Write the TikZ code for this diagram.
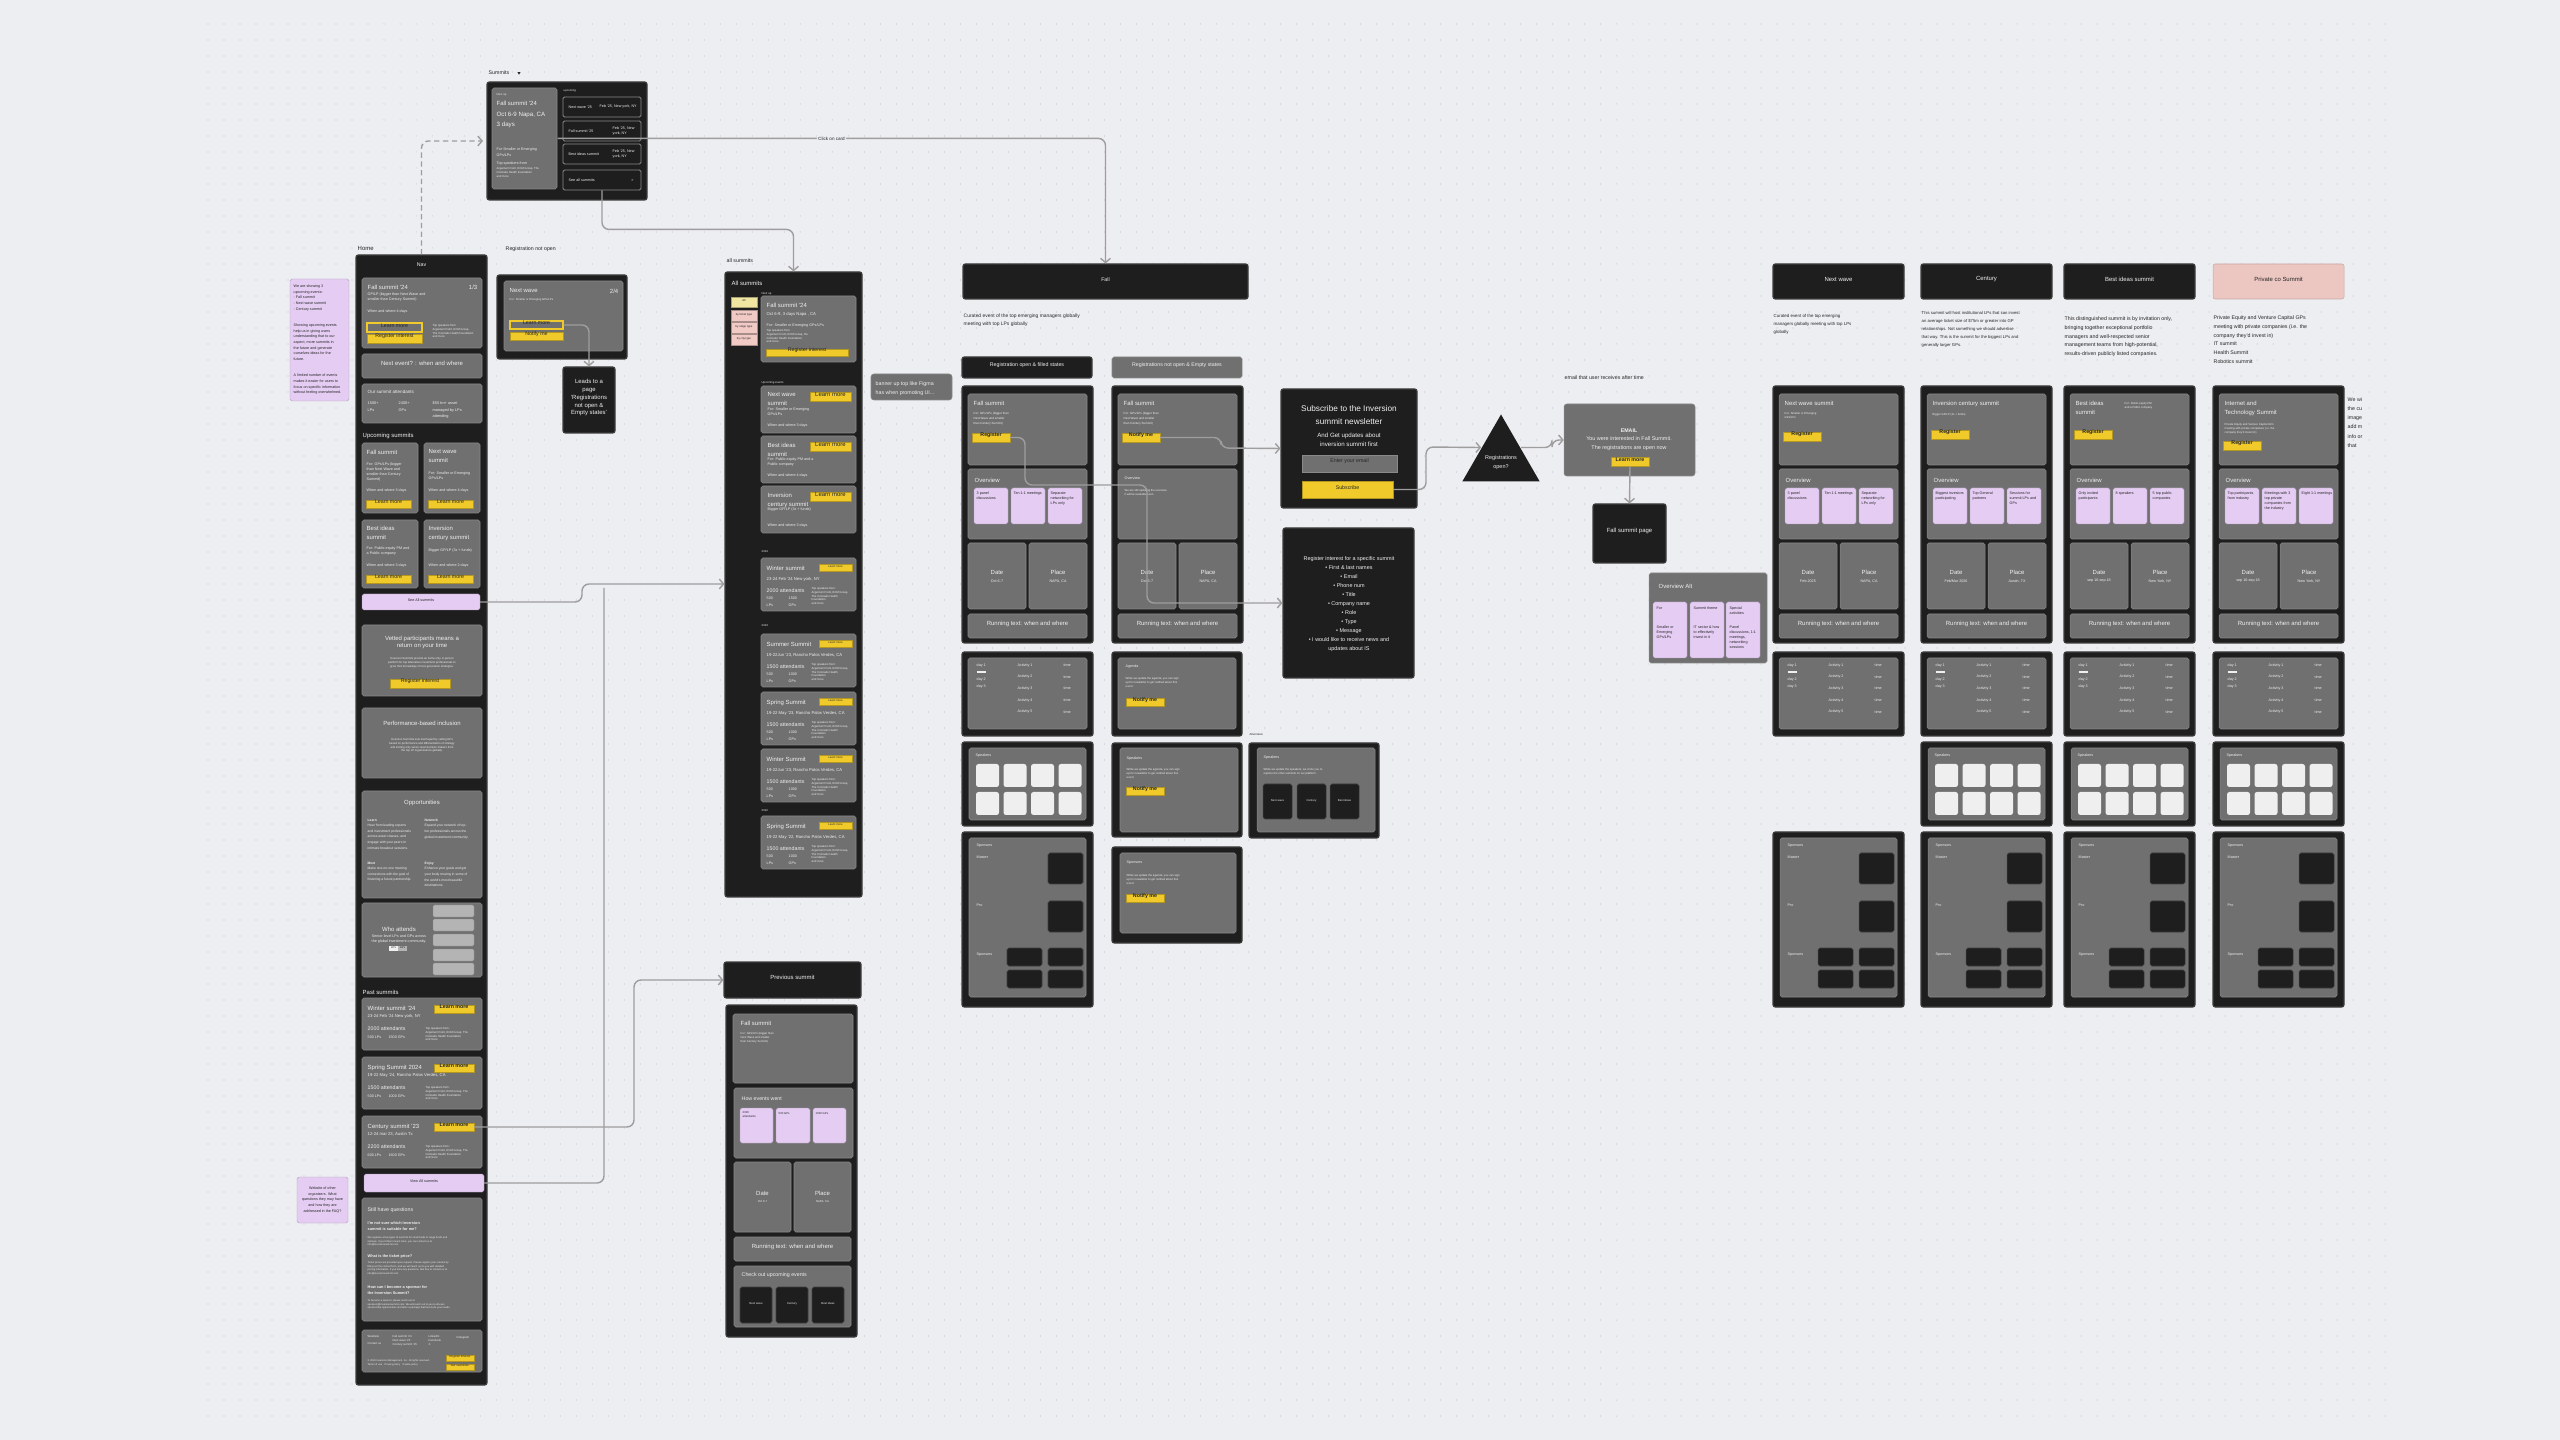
\documentclass[tikz,border=0pt]{standalone}
\usepackage{fontspec}
\setmainfont{Liberation Sans}
\usetikzlibrary{arrows.meta, positioning, fit, calc, shapes.geometric}

% colours
\definecolor{bgc}{HTML}{EDEEF2}
\definecolor{dotc}{HTML}{C3C5CC}
\definecolor{dk}{HTML}{1E1E1E}
\definecolor{dkline}{HTML}{3E3E3E}
\definecolor{cg}{HTML}{707070}
\definecolor{cgline}{HTML}{898989}
\definecolor{yel}{HTML}{F0CA2A}
\definecolor{lilc}{HTML}{E4CCF2}
\definecolor{pnk}{HTML}{ECC6C0}
\definecolor{chipy}{HTML}{F0E6A2}
\definecolor{chipp}{HTML}{F1C9C5}
\definecolor{tilec}{HTML}{EFEFEF}
\definecolor{connc}{HTML}{9E9E9E}
\definecolor{txw}{HTML}{EFEFEF}
\definecolor{txd}{HTML}{262626}
\definecolor{rowline}{HTML}{8C8C8C}
\definecolor{slot}{HTML}{B4B4B4}

% font sizes (the picture is laid out in pixel units)
\newcommand\fxs{\fontsize{0.8pt}{1.05pt}\selectfont}
\newcommand\fxa{\fontsize{1.05pt}{1.45pt}\selectfont}
\newcommand\fxb{\fontsize{1.5pt}{1.95pt}\selectfont}
\newcommand\fxc{\fontsize{1.7pt}{2.2pt}\selectfont}
\newcommand\fxe{\fontsize{2.35pt}{3.8pt}\selectfont}

\tikzset{
  wframe/.style={fill=dk, draw=dkline, line width=0.3pt, rounded corners=0.6pt, inner sep=0pt},
  card/.style={fill=cg, draw=cgline, line width=0.15pt, rounded corners=0.5pt, inner sep=0pt, text=txw},
  ybtn/.style={fill=yel, draw=yel!75!black, line width=0.12pt, inner sep=0pt, text=txd, font=\fxa},
  yout/.style={fill=cg, draw=yel, line width=0.35pt, inner sep=0pt, text=txd, font=\fxa},
  lil/.style={fill=lilc, draw=lilc!80!black, line width=0.12pt, rounded corners=0.5pt, inner sep=0pt, text=txd},
  chip/.style={fill=#1, draw=#1!70!black, line width=0.1pt, inner sep=0pt, text=txd, font=\fxs},
  tile/.style={fill=tilec, rounded corners=0.7pt, inner sep=0pt},
  dbox/.style={fill=dk, draw=dkline, line width=0.15pt, rounded corners=0.5pt, inner sep=0pt, text=txw},
  rowbox/.style={fill=dk, draw=rowline, line width=0.25pt, rounded corners=0.4pt, inner sep=0pt},
  tx/.style={anchor=north west, inner sep=0pt, align=left, text=txw, font=\fxa},
  txk/.style={tx, text=txd},
  ctr/.style={inner sep=0pt, align=center, text=txw},
  lbl/.style={anchor=west, inner sep=0pt, text=txd, font=\fxb},
  flowline/.style={draw=connc, line width=0.4pt, rounded corners=2pt},
  flow/.style={flowline, -{Straight Barb[length=1.2pt,width=2.8pt]}},
}

% top part of a summit page: x, name, header code, button, button y, overview code, date, place
\newcommand\pagetop[8]{%
  \def\px{#1}%
  \node[wframe, fit={(#1,386)(#1+131,643)}] (#2) {};
  \node[card, fit={(#1+6,394)(#1+125,465)}] (#2-hdr) {};
  #3
  \node[ybtn, font=\fxb, fit={(#1+10,#5)(#1+48,#5+9)}] (#2-btn) {\textbf{#4}};
  \node[card, fit={(#1+6,469)(#1+125,539)}] (#2-ov) {};
  #6
  \node[card, fit={(#1+6,543)(#1+64,609)}] (#2-date) {};
  \node[card, fit={(#1+67,543)(#1+125,609)}] (#2-place) {};
  \node[ctr, font=\fxc] (#2-dl) at ($(#2-date.center)+(0,-4)$) {Date};
  \node[ctr, font=\fxa] (#2-dv) at ($(#2-date.center)+(0,5)$) {#7};
  \node[ctr, font=\fxc] (#2-pl) at ($(#2-place.center)+(0,-4)$) {Place};
  \node[ctr, font=\fxa] (#2-pv) at ($(#2-place.center)+(0,5)$) {#8};
  \node[card, font=\fxc, fit={(#1+6,614)(#1+125,638)}] (#2-run) {Running text: when and where};
}
\newcommand\ovtrio[4]{%
  \node[tx, font=\fxc] (#1-ovt) at (\px+12,477) {Overview};
  \node[lil, fit={(\px+12,488)(\px+46,524)}] (#1-o1) {};
  \node[lil, fit={(\px+49,488)(\px+83,524)}] (#1-o2) {};
  \node[lil, fit={(\px+86,488)(\px+120,524)}] (#1-o3) {};
  \node[txk] (#1-o1t) at (\px+14,491) {#2};
  \node[txk] (#1-o2t) at (\px+51,491) {#3};
  \node[txk] (#1-o3t) at (\px+88,491) {#4};
}
\newcommand\agendabox[2]{%
  \node[wframe, fit={(#1,652)(#1+131,736)}] (#2) {};
  \node[card, fit={(#1+6,658)(#1+125,729)}] (#2-in) {};
  \node[tx, font=\fontsize{1.05pt}{2pt}\selectfont] (#2-d) at (#1+14,663) {\underline{day 1}\\day 2\\day 3};
  \foreach \k in {1,...,5}{%
    \node[tx] (#2-a\k) at (#1+55,651+11.7*\k) {Activity \k};
    \node[tx] (#2-m\k) at (#1+101,651+11.7*\k) {time};
  }%
}
\newcommand\speakerbox[2]{%
  \node[wframe, fit={(#1,742)(#1+131,826)}] (#2) {};
  \node[card, fit={(#1+7,748)(#1+124,820)}] (#2-in) {};
  \node[tx] (#2-t) at (#1+13,753) {Speakers};
  \foreach \c in {0,...,3}{\foreach \r in {0,1}{%
    \node[tile, fit={(#1+14+27.5*\c,764+28*\r)(#1+37+27.5*\c,787+28*\r)}] (#2-s\c\r) {};
  }}%
}
\newcommand\sponsorbox[2]{%
  \node[wframe, fit={(#1,832)(#1+131,1007)}] (#2) {};
  \node[card, fit={(#1+7,838)(#1+124,997)}] (#2-in) {};
  \node[tx] (#2-t1) at (#1+14,843) {Sponsors};
  \node[tx] (#2-t2) at (#1+14,855) {Master};
  \node[dbox, fit={(#1+86,853)(#1+121,884)}] (#2-m) {};
  \node[tx] (#2-t3) at (#1+14,903) {Pro};
  \node[dbox, fit={(#1+86,901)(#1+121,932)}] (#2-p) {};
  \node[tx] (#2-t4) at (#1+14,952) {Sponsors};
  \node[dbox, fit={(#1+45,948)(#1+80,966)}] (#2-s1) {};
  \node[dbox, fit={(#1+86,948)(#1+121,966)}] (#2-s2) {};
  \node[dbox, fit={(#1+45,970)(#1+80,988)}] (#2-s3) {};
  \node[dbox, fit={(#1+86,970)(#1+121,988)}] (#2-s4) {};
}

\begin{document}
\begin{tikzpicture}[x=0.01cm, y=-0.01cm]
\useasboundingbox (0,0) rectangle (2560,1440);
\fill[bgc] (0,0) rectangle (2560,1440);
% canvas dots
\foreach \yy in {24,40,...,1416}
  \draw[dotc, line width=0.35pt, line cap=round, dash pattern=on 0pt off 0.16cm] (208,\yy) -- (2394,\yy);

% ---------- summits dropdown ----------
\node[lbl, font=\fxb] (sm-lbl) at (488,73) {Summits};
\node[regular polygon, regular polygon sides=3, shape border rotate=180, fill=txd, minimum size=0.035cm, inner sep=0pt] (sm-caret) at (519,73) {};
\node[wframe, fit={(487,82)(647,200)}] (sm) {};
\node[card, fit={(492,88)(557,189)}] (sm-next) {};
\node[tx, font=\fxs] (sm-nu) at (496,92) {Next up};
\node[tx, font=\fxc] (sm-t) at (496,100) {Fall summit '24};
\node[tx, font=\fontsize{1.75pt}{2.7pt}\selectfont] (sm-d) at (496,112) {Oct 6-9 Napa, CA\\3 days};
\node[tx, font=\fontsize{1.05pt}{1.8pt}\selectfont] (sm-for) at (496,147) {For Smaller or Emerging\\GPs/LPs};
\node[tx] (sm-sp) at (496,161) {Top speakers from};
\node[tx, font=\fxs] (sm-sp2) at (496,167) {Argentum Point, ECM Group, The\\Colorado Health Foundation\\and more};
\node[tx, font=\fxs] (sm-up) at (563,88) {upcoming};
\node[rowbox, fit={(563,97)(641,117)}] (sm-r1) {};
\node[rowbox, fit={(563,121)(641,141)}] (sm-r2) {};
\node[rowbox, fit={(563,144)(641,164)}] (sm-r3) {};
\node[rowbox, fit={(563,170)(641,190)}] (sm-r4) {};
\node[tx, anchor=west] (sm-r1a) at (568,107) {Next wave '25};
\node[tx, anchor=west] (sm-r1b) at (599,107) {Feb '25, New york, NY};
\node[tx, anchor=west] (sm-r2a) at (568,131) {Fall summit '25};
\node[tx, anchor=west] (sm-r2b) at (612,131) {Feb '25, New\\york, NY};
\node[tx, anchor=west] (sm-r3a) at (568,154) {Best ideas summit};
\node[tx, anchor=west] (sm-r3b) at (612,154) {Feb '25, New\\york, NY};
\node[tx, anchor=west] (sm-r4a) at (568,180) {See all summits};
\node[tx, anchor=west] (sm-r4b) at (630,180) {>};

% ---------- home ----------
\node[lil, fit={(290,279)(349,401)}] (h-note) {};
\node[txk, font=\fontsize{1.05pt}{1.62pt}\selectfont] (h-note-t) at (293,284) {We are showing 3\\upcoming events:\\- Fall summit\\- Next wave summit\\- Century summit\\[3pt]Showing upcoming events\\help us in giving users\\understanding that to our\\aspect, more summits in\\the future and generate\\ourselves ideas for the\\future.\\[3pt]A limited number of events\\makes it easier for users to\\focus on specific information\\without feeling overwhelmed.};

\node[lbl, font=\fxc] (h-lbl) at (357,248) {Home};
\node[wframe, fit={(356,255)(487,1385)}] (home) {};
\node[ctr, font=\fxb] (h-nav) at (421.5,265) {Nav};

\node[card, fit={(362,278)(482,348)}] (h-c1) {};
\node[tx, font=\fxc] (h-c1t) at (367,284) {Fall summit '24};
\node[tx, font=\fxc, anchor=north east] (h-c1n) at (478,284) {1/3};
\node[tx] (h-c1s) at (367,292) {GP/LP (bigger than Next Wave and\\smaller than Century Summit)};
\node[tx] (h-c1w) at (367,309) {When and where 4 days};
\node[yout, font=\fxb, fit={(367,323)(422,332)}] (h-c1l) {Learn more};
\node[ybtn, font=\fxb, fit={(367,334)(422,343)}] (h-c1r) {Register interest};
\node[tx, font=\fxs] (h-c1sp) at (432,324) {Top speakers from\\Argentum Point, ECM Group,\\The Colorado Health Foundation\\and more};

\node[card, font=\fxc, fit={(362,354)(482,378)}] (h-c2) {Next event? : when and where};

\node[card, fit={(362,384)(482,423)}] (h-c3) {};
\node[tx, font=\fontsize{1.3pt}{1.7pt}\selectfont] (h-c3t) at (367,389) {Our summit attendants};
\node[tx, font=\fontsize{1.1pt}{1.9pt}\selectfont] (h-c3a) at (367,401) {1500+\\LPs};
\node[tx, font=\fontsize{1.1pt}{1.9pt}\selectfont] (h-c3b) at (398,401) {2400+\\GPs};
\node[tx, font=\fontsize{1.1pt}{1.9pt}\selectfont] (h-c3c) at (432,401) {\$50 trn+ asset\\managed by LPs\\attending};

\node[tx, font=\fxc, anchor=west] (h-up) at (362,436) {Upcoming summits};
\node[card, fit={(362,443)(418,513)}] (h-u1) {};
\node[tx, font=\fxc] (h-u1t) at (366,449) {Fall summit};
\node[tx] (h-u1s) at (366,462) {For: GPs/LPs (bigger\\than Next Wave and\\smaller than Century\\Summit)};
\node[tx] (h-u1w) at (366,488) {When and where 3 days};
\node[ybtn, font=\fxb, fit={(366,500)(411,508)}] (h-u1b) {Learn more};
\node[card, fit={(424,443)(480,513)}] (h-u2) {};
\node[tx, font=\fontsize{1.7pt}{2.6pt}\selectfont] (h-u2t) at (428,449) {Next wave\\summit};
\node[tx] (h-u2s) at (428,471) {For: Smaller or Emerging\\GPs/LPs};
\node[tx] (h-u2w) at (428,488) {When and where 4 days};
\node[ybtn, font=\fxb, fit={(428,500)(473,508)}] (h-u2b) {Learn more};
\node[card, fit={(362,520)(418,588)}] (h-u3) {};
\node[tx, font=\fontsize{1.7pt}{2.6pt}\selectfont] (h-u3t) at (366,525) {Best ideas\\summit};
\node[tx] (h-u3s) at (366,546) {For: Public equity PM and\\a Public company};
\node[tx] (h-u3w) at (366,563) {When and where 3 days};
\node[ybtn, font=\fxb, fit={(366,575)(411,583)}] (h-u3b) {Learn more};
\node[card, fit={(424,520)(480,588)}] (h-u4) {};
\node[tx, font=\fontsize{1.7pt}{2.6pt}\selectfont] (h-u4t) at (428,525) {Inversion\\century summit};
\node[tx] (h-u4s) at (428,548) {Bigger GP/LP (3x + funds)};
\node[tx] (h-u4w) at (428,563) {When and where 2 days};
\node[ybtn, font=\fxb, fit={(428,575)(473,583)}] (h-u4b) {Learn more};

\node[lil, font=\fxa, fit={(362,594)(480,610)}] (h-seeall) {See All summits};

\node[card, fit={(362,625)(482,696)}] (h-c4) {};
\node[ctr, font=\fxc, anchor=north] (h-c4t) at (422,635) {Vetted participants means a\\return on your time};
\node[ctr, font=\fxs, anchor=north] (h-c4s) at (422,657) {Inversion Summits provide an invite-only, in-person\\platform for top alternative investment professionals to\\grow their knowledge of next-generation strategies.};
\node[ybtn, font=\fxb, fit={(390,679)(450,688)}] (h-c4b) {Register interest};

\node[card, fit={(362,708)(482,778)}] (h-c5) {};
\node[ctr, font=\fxc, anchor=north] (h-c5t) at (422,720) {Performance-based inclusion};
\node[ctr, font=\fxs, anchor=north] (h-c5s) at (422,738) {Inversion Summits sets itself apart by vetting GPs\\based on performance and differentiation of strategy\\and inviting only senior-level decision makers from\\the top LP organizations globally.};

\node[card, fit={(362,791)(482,898)}] (h-c6) {};
\node[ctr, font=\fxc, anchor=north] (h-c6t) at (422,799) {Opportunities};
\node[tx, font=\fontsize{0.95pt}{1.6pt}\selectfont] (h-c6a) at (367,818) {\textbf{Learn}\\Hear from leading experts\\and investment professionals\\across asset classes, and\\engage with your peers in\\intimate breakout sessions.};
\node[tx, font=\fontsize{0.95pt}{1.6pt}\selectfont] (h-c6b) at (424,818) {\textbf{Network}\\Expand your network of top-\\tier professionals across the\\global investment community.};
\node[tx, font=\fontsize{0.95pt}{1.6pt}\selectfont] (h-c6c) at (367,861) {\textbf{Meet}\\Make one-on-one meeting\\connections with the goal of\\fostering a future partnership.};
\node[tx, font=\fontsize{0.95pt}{1.6pt}\selectfont] (h-c6d) at (424,861) {\textbf{Enjoy}\\Enhance your goals and get\\your body moving in some of\\the world's most beautiful\\destinations.};

\node[card, fit={(362,903)(482,977)}] (h-c7) {};
\node[ctr, font=\fxc, anchor=north] (h-c7t) at (399,926) {Who attends};
\node[ctr, font=\fxa, anchor=north] (h-c7s) at (399,934) {Senior-level LPs and GPs across\\the global investment community.};
\node[fill=tilec, inner sep=0pt, font=\fxs, text=txd, fit={(389,946)(398,951)}] (h-c7l) {LPs};
\node[fill=slot, inner sep=0pt, font=\fxs, text=txd, fit={(398,946)(407,951)}] (h-c7g) {GPs};
\foreach \k/\yy in {1/905,2/919,3/934,4/949,5/963}
  \node[fill=slot, draw=cgline, line width=0.1pt, rounded corners=0.4pt, inner sep=0pt, fit={(433,\yy)(474,\yy+12)}] (h-wa\k) {};

\node[tx, font=\fxc, anchor=west] (h-past) at (362,992) {Past summits};
\foreach \n/\yy/\ttl/\dd/\att/\lp/\gp in {1/998/{Winter summit '24}/{23-24 Feb '24 New york, NY}/2000/500/1500,
    2/1057/{Spring Summit 2024}/{19-22 May '24, Rancho Palos Verdes, CA}/1500/500/1000,
    3/1116/{Century summit '23}/{12-24 mar 23, Austin Tx}/2200/600/1600}{
  \node[card, fit={(362,\yy)(482,\yy+52)}] (h-p\n) {};
  \node[tx, font=\fxc] (h-p\n-t) at (367,\yy+7) {\ttl};
  \node[ybtn, font=\fxb, fit={(434,\yy+7)(474,\yy+15)}] (h-p\n-btn) {\textbf{Learn more}};
  \node[tx, font=\fontsize{1.2pt}{1.5pt}\selectfont] (h-p\n-d) at (367,\yy+16) {\dd};
  \node[tx, font=\fxb] (h-p\n-a) at (367,\yy+28) {\att\ attendants};
  \node[tx] (h-p\n-l) at (367,\yy+37) {\lp\ LPs\qquad\gp\ GPs};
  \node[tx, font=\fxs] (h-p\n-s) at (425,\yy+29) {Top speakers from:\\Argentum Point, ECM Group, The\\Colorado Health Foundation\\and more};
}
\node[lil, font=\fxa, fit={(364,1174)(484,1192)}] (h-viewall) {View All summits};
\node[lil, fit={(297,1177)(348,1223)}] (h-note2) {};
\node[ctr, text=txd, font=\fontsize{1.05pt}{1.6pt}\selectfont] (h-note2-t) at (322.5,1200) {Website of other\\organizers. What\\questions they may have\\and how they are\\addressed in the FAQ?};

\node[card, fit={(362,1198)(482,1321)}] (h-c8) {};
\node[tx, font=\fxb] (h-c8t) at (367,1207) {Still have questions};
\node[tx, font=\fontsize{1.1pt}{1.7pt}\selectfont] (h-c8q1) at (367,1221) {\textbf{I'm not sure which Inversion}\\\textbf{summit is suitable for me?}};
\node[tx, font=\fontsize{0.72pt}{1pt}\selectfont] (h-c8a1) at (367,1236) {We organize a few types of summits for small funds to mega funds and\\startups. If you'd like to learn more, you can contact us at\\info@inversionsummit.com};
\node[tx, font=\fontsize{1.1pt}{1.7pt}\selectfont] (h-c8q2) at (367,1254) {\textbf{What is the ticket price?}};
\node[tx, font=\fontsize{0.72pt}{1pt}\selectfont] (h-c8a2) at (367,1261) {Ticket prices are provided upon request. Please register your interest by\\filling out the contact form, and we will reach out to you with detailed\\pricing information. If you have any questions, feel free to contact us at\\info@inversionsummit.com};
\node[tx, font=\fontsize{1.1pt}{1.7pt}\selectfont] (h-c8q3) at (367,1285) {\textbf{How can I become a sponsor for}\\\textbf{the Inversion Summit?}};
\node[tx, font=\fontsize{0.72pt}{1pt}\selectfont] (h-c8a3) at (367,1299) {To become a sponsor, please reach out at\\sponsors@inversionsummit.com. We will reach out to you to discuss\\sponsorship opportunities and tailor a package that best suits your needs.};

\node[card, fit={(362,1330)(482,1372)}] (h-c9) {};
\node[tx, font=\fxs] (h-c9a) at (367,1335) {Wesbsite\\[1pt]Contact us};
\node[tx, font=\fxs] (h-c9b) at (392,1335) {Fall summit '24\\Next wave '25\\Century summit '25};
\node[tx, font=\fxs] (h-c9c) at (428,1335) {LinkedIn\\Facebook\\X};
\node[tx, font=\fxs] (h-c9d) at (456,1335) {Instagram};
\node[tx, font=\fontsize{0.72pt}{1pt}\selectfont] (h-c9e) at (367,1359) {\textcopyright\ 2024 Inversion Management, Inc. All rights reserved.\\Terms of use\quad Privacy policy\quad Cookie policy};
\node[ybtn, font=\fxs, fit={(446,1355)(474,1361)}] (h-c9r) {Register Interest};
\node[ybtn, font=\fxs, fit={(446,1364)(474,1370)}] (h-c9g) {Get newsletter};

% ---------- registration not open ----------
\node[lbl] (rno-lbl) at (505,249) {Registration not open};
\node[wframe, fit={(497,275)(627,359)}] (rno) {};
\node[card, fit={(504,281)(623,351)}] (rno-c) {};
\node[tx, font=\fxc] (rno-t) at (509,288) {Next wave};
\node[tx, font=\fxc, anchor=north east] (rno-n) at (619,288) {2/4};
\node[tx, font=\fxs] (rno-s) at (509,297) {For: Smaller or Emerging GPs/LPs};
\node[yout, font=\fxb, fit={(510,321)(563,329)}] (rno-learn) {Learn more};
\node[ybtn, font=\fxb, fit={(510,332)(563,340)}] (rno-notify) {Notify me};
\node[wframe, ctr, font=\fxc, fit={(563,367)(615,433)}] (rno-leads) {Leads to a\\page\\`Registrations\\not open \&\\Empty states'};

% ---------- all summits ----------
\node[lbl] (as-lbl) at (726,261) {all summits};
\node[wframe, fit={(725,272)(862,897)}] (as) {};
\node[tx, font=\fxc] (as-t) at (731,280) {All summits};
\node[chip=chipy, fit={(731,297)(757,307)}] (as-f1) {All};
\node[chip=chipp, fit={(731,310)(757,321)}] (as-f2) {by ticket type};
\node[chip=chipp, fit={(731,322)(757,333)}] (as-f3) {by stage type};
\node[chip=chipp, fit={(731,334)(757,345)}] (as-f4) {by city type};
\node[tx, font=\fxs] (as-nu) at (761,291) {Next up};
\node[card, fit={(761,296)(856,362)}] (as-c1) {};
\node[tx, font=\fxc] (as-c1t) at (766,302) {Fall summit '24};
\node[tx, font=\fontsize{1.2pt}{1.5pt}\selectfont] (as-c1d) at (766,312) {Oct 6-9, 3 days Napa , CA};
\node[tx] (as-c1f) at (766,323) {For: Smaller or Emerging GPs/LPs};
\node[tx, font=\fxs] (as-c1s) at (766,329) {Top speakers from\\Argentum Point, ECM Group, the\\Colorado Health Foundation\\and more};
\node[ybtn, font=\fxb, fit={(766,349)(848,356)}] (as-c1b) {Register interest};
\node[tx, font=\fxs] (as-ue) at (761,380) {Upcoming events};
\foreach \n/\yy/\ttl/\sub/\ww in {2/386/{Next wave\\summit}/{For: Smaller or Emerging\\GPs/LPs}/{When and where 3 days},
    3/436/{Best ideas\\summit}/{For: Public equity PM and a\\Public company}/{When and where 4 days},
    4/486/{Inversion\\century summit}/{Bigger GP/LP (3x + funds)}/{When and where 3 days}}{
  \node[card, fit={(761,\yy)(856,\yy+47)}] (as-c\n) {};
  \node[tx, font=\fontsize{1.7pt}{2.6pt}\selectfont] (as-c\n-t) at (767,\yy+6) {\ttl};
  \node[ybtn, font=\fxc, fit={(810,\yy+6)(851,\yy+15)}] (as-c\n-b) {Learn more};
  \node[tx] (as-c\n-s) at (767,\yy+21) {\sub};
  \node[tx] (as-c\n-w) at (767,\yy+37) {\ww};
}
\node[tx, font=\fxs] (as-y24) at (761,549) {2024};
\node[tx, font=\fxs] (as-y23) at (761,623) {2023};
\node[tx, font=\fxs] (as-y22) at (761,808) {2022};
\foreach \n/\yy/\ttl/\dd/\att/\gp in {5/558/{Winter summit}/{23-24 Feb '24 New york, NY}/2000/1500,
    6/634/{Summer Summit}/{19-22Jun '23, Rancho Palos Verdes, CA}/1500/1000,
    7/692/{Spring Summit}/{19-22 May '23, Rancho Palos Verdes, CA}/1500/1000,
    8/749/{Winter Summit}/{19-22Jun '23, Rancho Palos Verdes, CA}/1500/1000,
    9/816/{Spring Summit}/{19-22 May '22, Rancho Palos Verdes, CA}/1500/1000}{
  \node[card, fit={(761,\yy)(856,\yy+53)}] (as-p\n) {};
  \node[tx, font=\fxc] (as-p\n-t) at (766,\yy+7) {\ttl};
  \node[ybtn, font=\fxs, fit={(819,\yy+6)(852,\yy+13)}] (as-p\n-b) {Learn more};
  \node[tx, font=\fontsize{1.2pt}{1.5pt}\selectfont] (as-p\n-d) at (766,\yy+19) {\dd};
  \node[tx, font=\fxb] (as-p\n-a) at (766,\yy+30) {\att\ attendants};
  \node[tx, font=\fontsize{1.05pt}{2pt}\selectfont] (as-p\n-l) at (766,\yy+38) {500\\LPs};
  \node[tx, font=\fontsize{1.05pt}{2pt}\selectfont] (as-p\n-g) at (788,\yy+38) {\gp\\GPs};
  \node[tx, font=\fxs] (as-p\n-s) at (811,\yy+29) {Top speakers from:\\Argentum Point, ECM Group,\\The Colorado Health\\Foundation\\and more};
}
\node[fill=cg, draw=cgline, line width=0.15pt, rounded corners=0.8pt, inner sep=0pt, fit={(871,374)(952,400)}] (as-note) {};
\node[tx, font=\fontsize{1.5pt}{2.5pt}\selectfont] (as-note-t) at (875,381) {banner up top like Figma\\has when promoting UI...};

% ---------- previous summit ----------
\node[wframe, ctr, font=\fxc, fit={(724,962)(861,998)}] (ps-h) {Previous summit};
\node[wframe, fit={(726,1005)(857,1337)}] (ps) {};
\node[card, fit={(733,1014)(853,1083)}] (ps-c1) {};
\node[tx, font=\fxc] (ps-c1t) at (740,1020) {Fall summit};
\node[tx, font=\fxs] (ps-c1s) at (740,1032) {For: GPs/LPs (bigger than\\Next Wave and smaller\\than Century Summit)};
\node[card, fit={(734,1088)(853,1158)}] (ps-c2) {};
\node[tx, font=\fxb] (ps-c2t) at (741,1096) {How events went};
\node[lil, fit={(740,1108)(773,1143)}] (ps-o1) {};
\node[lil, fit={(776,1108)(810,1143)}] (ps-o2) {};
\node[lil, fit={(813,1108)(846,1143)}] (ps-o3) {};
\node[txk, font=\fxs] (ps-o1t) at (742,1111) {2000\\attendants};
\node[txk, font=\fxs] (ps-o2t) at (778,1111) {500 GPs};
\node[txk, font=\fxs] (ps-o3t) at (815,1111) {1500 GPs};
\node[card, fit={(734,1162)(791,1232)}] (ps-date) {};
\node[card, fit={(794,1162)(851,1232)}] (ps-place) {};
\node[ctr, font=\fxc] (ps-dl) at ($(ps-date.center)+(0,-4)$) {Date};
\node[ctr, font=\fxs] (ps-dv) at ($(ps-date.center)+(0,5)$) {Oct 6-7};
\node[ctr, font=\fxc] (ps-pl) at ($(ps-place.center)+(0,-4)$) {Place};
\node[ctr, font=\fxs] (ps-pv) at ($(ps-place.center)+(0,5)$) {NAPA, CA};
\node[card, font=\fxc, fit={(734,1237)(851,1261)}] (ps-run) {Running text: when and where};
\node[card, fit={(734,1266)(851,1327)}] (ps-c5) {};
\node[tx, font=\fxb] (ps-c5t) at (741,1272) {Check out upcoming events};
\node[dbox, font=\fxs, fit={(740,1287)(772,1323)}] (ps-e1) {Next wave};
\node[dbox, font=\fxs, fit={(776,1287)(808,1323)}] (ps-e2) {Century};
\node[dbox, font=\fxs, fit={(812,1287)(844,1323)}] (ps-e3) {Best ideas};

% ---------- fall ----------
\node[wframe, ctr, font=\fxb, fit={(963,264)(1248,299)}] (fall) {Fall};
\node[txk, font=\fontsize{1.4pt}{2.4pt}\selectfont] (fall-d) at (963,313) {Curated event of the top emerging managers globally\\meeting with top LPs globally};
\node[wframe, ctr, font=\fxb, fit={(962,357)(1092,378)}] (fall-st1) {Registration open \& filled states};
\node[card, font=\fxb, fit={(1112,357)(1242,378)}] (fall-st2) {Registrations not open \& Empty states};

\pagetop{962}{fl}{%
  \node[tx, font=\fxc] (fl-t) at (\px+11,400) {Fall summit};
  \node[tx, font=\fontsize{0.85pt}{1.4pt}\selectfont] (fl-s) at (\px+11,412) {For: GPs/LPs (bigger than\\Next Wave and smaller\\than Century Summit)};%
}{Register}{433}{\ovtrio{fl}{3 panel\\discussions}{Ten 1:1 meetings}{Separate\\networking for\\LPs only}}{Oct 6-7}{NAPA, CA}

\pagetop{1112}{fr}{%
  \node[tx, font=\fxc] (fr-t) at (\px+11,400) {Fall summit};
  \node[tx, font=\fontsize{0.85pt}{1.4pt}\selectfont] (fr-s) at (\px+11,412) {For: GPs/LPs (bigger than\\Next Wave and smaller\\than Century Summit)};%
}{Notify me}{433}{%
  \node[tx] (fr-ovt) at (\px+12,476) {Overview};
  \node[tx, font=\fxs] (fr-ovs) at (\px+12,489) {We are still updating the overview,\\it will be available soon.};%
}{Oct 6-7}{NAPA, CA}

\node[wframe, fit={(1112,652)(1242,736)}] (fr-ag) {};
\node[card, fit={(1118,658)(1236,729)}] (fr-ag-in) {};
\node[tx] (fr-ag-t) at (1125,664) {Agenda};
\node[tx, font=\fxs] (fr-ag-s) at (1125,677) {While we update the agenda, you can sign\\up for newsletter to get notified about this\\event.};
\node[ybtn, font=\fxb, fit={(1126,698)(1164,706)}] (fr-ag-b) {\textbf{Notify me}};
\node[wframe, fit={(1112,743)(1242,837)}] (fr-sp) {};
\node[card, fit={(1120,748)(1238,832)}] (fr-sp-in) {};
\node[tx] (fr-sp-t) at (1126,756) {Speakers};
\node[tx, font=\fxs] (fr-sp-s) at (1126,768) {While we update the agenda, you can sign\\up for newsletter to get notified about this\\event.};
\node[ybtn, font=\fxb, fit={(1126,787)(1164,795)}] (fr-sp-b) {\textbf{Notify me}};
\node[wframe, fit={(1112,847)(1242,943)}] (fr-so) {};
\node[card, fit={(1120,853)(1236,933)}] (fr-so-in) {};
\node[tx] (fr-so-t) at (1126,860) {Sponsors};
\node[tx, font=\fxs] (fr-so-s) at (1126,874) {While we update the agenda, you can sign\\up for newsletter to get notified about this\\event.};
\node[ybtn, font=\fxb, fit={(1126,894)(1164,902)}] (fr-so-b) {\textbf{Notify me}};

\node[txk, font=\fxs] (alt-lbl) at (1249,732) {Alternative};
\node[wframe, fit={(1249,743)(1379,838)}] (alt) {};
\node[card, fit={(1257,748)(1375,832)}] (alt-in) {};
\node[tx] (alt-t) at (1263,755) {Speakers};
\node[tx, font=\fxs] (alt-s) at (1263,768) {While we update the speakers, we invite you to\\explore the other summits on our platform.};
\node[dbox, font=\fxs, fit={(1263,784)(1292,819)}] (alt-e1) {Next wave};
\node[dbox, font=\fxs, fit={(1297,784)(1326,819)}] (alt-e2) {Century};
\node[dbox, font=\fxs, fit={(1330,784)(1359,819)}] (alt-e3) {Best ideas};

% ---------- newsletter / register interest ----------
\node[wframe, fit={(1281,389)(1417,508)}] (sub) {};
\node[ctr, font=\fxe] (sub-t) at (1349,415) {Subscribe to the Inversion\\summit newsletter};
\node[ctr, font=\fontsize{1.75pt}{2.5pt}\selectfont] (sub-s) at (1349,440) {And Get updates about\\inversion summit first};
\node[fill=cg, draw=cgline, line width=0.15pt, inner sep=0pt, font=\fxb, text=txd, fit={(1302,455)(1397,472)}] (sub-in) {Enter your email};
\node[ybtn, font=\fxb, fit={(1302,481)(1393,498)}] (sub-btn) {Subscribe};
\node[wframe, fit={(1283,528)(1414,678)}] (regint) {};
\node[ctr, font=\fontsize{1.55pt}{2.56pt}\selectfont] (regint-t) at (1349,604) {Register interest for a specific summit\\\textbullet\ First \& last names\\\textbullet\ Email\\\textbullet\ Phone num\\\textbullet\ Title\\\textbullet\ Company name\\\textbullet\ Role\\\textbullet\ Type\\\textbullet\ Message\\\textbullet\ I would like to receive news and\\updates about IS};

\node[regular polygon, regular polygon sides=3, fill=dk, minimum size=0.89cm, inner sep=0pt] (tri) at (1501,459) {};
\node[ctr, font=\fontsize{1.55pt}{2.6pt}\selectfont] (tri-t) at (1501,463) {Registrations\\open?};

\node[lbl] (em-lbl) at (1564,378) {email that user receives after time};
\node[card, rounded corners=0.8pt, fit={(1564,404)(1695,476)}] (em) {};
\node[ctr, font=\fxb] (em-t) at (1629,431) {\textbf{EMAIL}};
\node[ctr, font=\fontsize{1.55pt}{2.56pt}\selectfont] (em-s) at (1629,444) {You were interested in Fall Summit.\\The registrations are open now};
\node[ybtn, font=\fxb, fit={(1611,457)(1649,466)}] (em-btn) {\textbf{Learn more}};
\node[wframe, ctr, font=\fxc, fit={(1593,504)(1666,563)}] (fsp) {Fall summit page};

\node[card, fit={(1649,573)(1767,663)}] (ova) {};
\node[tx, font=\fxc] (ova-t) at (1658,583) {Overview Alt};
\node[lil, fit={(1653,602)(1687,658)}] (ova-1) {};
\node[lil, fit={(1690,602)(1724,658)}] (ova-2) {};
\node[lil, fit={(1726,602)(1760,658)}] (ova-3) {};
\node[txk] (ova-1a) at (1656,606) {For};
\node[txk] (ova-1b) at (1656,625) {Smaller or\\Emerging\\GPs/LPs};
\node[txk] (ova-2a) at (1693,606) {Summit theme};
\node[txk] (ova-2b) at (1693,625) {IT sector \& how\\to effectively\\invest in it};
\node[txk] (ova-3a) at (1729,606) {Special\\activities};
\node[txk] (ova-3b) at (1729,625) {Panel\\discussions, 1:1\\meetings,\\networking\\sessions};

% ---------- summit types ----------
\node[wframe, ctr, font=\fxc, fit={(1773,264)(1904,299)}] (nw-h) {Next wave};
\node[wframe, ctr, font=\fxc, fit={(1921,264)(2052,299)}] (ce-h) {Century};
\node[wframe, ctr, font=\fxc, fit={(2064,264)(2195,299)}] (bi-h) {Best ideas summit};
\node[fill=pnk, draw=pnk!85!black, line width=0.15pt, rounded corners=0.6pt, inner sep=0pt, text=txd, font=\fxc, fit={(2213,264)(2344,299)}] (pv-h) {Private co Summit};
\node[txk, font=\fontsize{1.25pt}{2.2pt}\selectfont] (nw-d) at (1773,314) {Curated event of the top emerging\\managers globally meeting with top LPs\\globally};
\node[txk, font=\fontsize{1.2pt}{2.27pt}\selectfont] (ce-d) at (1921,311) {This summit will host institutional LPs that can invest\\an average ticket size of \$75m or greater into GP\\relationships. Not something we should advertise\\that way. This is the summit for the biggest LPs and\\generally larger GPs.};
\node[txk, font=\fontsize{1.5pt}{2.5pt}\selectfont] (bi-d) at (2064,316) {This distinguished summit is by invitation only,\\bringing together exceptional portfolio\\managers and well-respected senior\\management teams from high-potential,\\results-driven publicly listed companies.};
\node[txk, font=\fontsize{1.5pt}{2.5pt}\selectfont] (pv-d) at (2213,315) {Private Equity and Venture Capital GPs\\meeting with private companies (i.e. the\\company they'd invest in)\\IT summit\\Health Summit\\Robotics summit};

\pagetop{1773}{nw}{%
  \node[tx, font=\fxc] (nw-t) at (\px+11,400) {Next wave summit};
  \node[tx, font=\fxs] (nw-s) at (\px+11,412) {For: Smaller or Emerging\\GPs/LPs};%
}{Register}{432}{\ovtrio{nw}{3 panel\\discussions}{Ten 1:1 meetings}{Separate\\networking for\\LPs only}}{Feb 2025}{NAPA, CA}

\pagetop{1921}{ce}{%
  \node[tx, font=\fxc] (ce-t) at (\px+11,400) {Inversion century summit};
  \node[tx, font=\fxs] (ce-s) at (\px+11,412) {Bigger GP/LP (3x + funds)};%
}{Register}{430}{\ovtrio{ce}{Biggest investors\\participating}{Top General\\partners}{Sessions for\\summit LPs and\\GPs}}{Feb/Mar 2026}{Austin, TX}

\pagetop{2064}{bi}{%
  \node[tx, font=\fontsize{1.7pt}{2.7pt}\selectfont] (bi-t) at (\px+11,400) {Best ideas\\summit};
  \node[tx, font=\fxs] (bi-s) at (\px+60,402) {For: Public equity PM\\and a Public company};%
}{Register}{430}{\ovtrio{bi}{Only invited\\participants}{8 speakers}{5 top public\\companies}}{sep 16-sep 18}{New York, NY}

\pagetop{2213}{pv}{%
  \node[tx, font=\fontsize{1.7pt}{2.7pt}\selectfont] (pv-t) at (\px+11,400) {Internet and\\Technology Summit};
  \node[tx, font=\fxs] (pv-s) at (\px+11,423) {Private Equity and Venture Capital GPs\\meeting with private companies (i.e. the\\company they'd invest in)};%
}{Register}{441}{\ovtrio{pv}{Top participants\\from industry}{Meetings with 3\\top private\\companies from\\the industry}{Eight 1:1 meetings}}{sep 16-sep 18}{New York, NY}

\node[txk, font=\fontsize{1.5pt}{2.6pt}\selectfont] (pv-note) at (2347,397) {We wi\\the cu\\image\\add m\\info or\\that};

% lower page blocks
\foreach \ax/\an in {962/fl,1773/nw,1921/ce,2064/bi,2213/pv}{\agendabox{\ax}{\an-ag}}
\foreach \ax/\an in {962/fl,1921/ce,2064/bi,2213/pv}{\speakerbox{\ax}{\an-sp}}
\foreach \ax/\an in {962/fl,1773/nw,1921/ce,2064/bi,2213/pv}{\sponsorbox{\ax}{\an-so}}

% ---------- connectors ----------
\draw[flowline, dash pattern=on 1.5pt off 1pt, -{Straight Barb[length=1.2pt,width=2.8pt]}, shorten >=1pt] (home.north) |- (sm.west);
\draw[flow] ($(sm-r2.south west)+(-5,-3)$) -| (fall.north)
  node[pos=0.25, fill=bgc, inner sep=0.4pt, font=\fontsize{1.3pt}{1.6pt}\selectfont, text=txd] (click-lbl) {Click on card};
\draw[flow] (sm-r4.south) -- ++(0,39) -| (as.north);
\draw[flow] (rno-learn.east) -| (rno-leads.north);
\draw[flow] (h-seeall.east) -| (582,584) -- (as.west |- 0,584);
\draw[flowline] (h-viewall.east) -| (604,588);
\draw[flow] (h-p3-btn.east) -| (634,980) -- (ps-h.west);
\draw[flow] (fl-btn.east) -| (1025,485) -| (1147,603) -- (regint.west);
\draw[flow] (fr-btn.east) -| (1221,448) -- (sub.west);
\draw[flow] (sub-btn.east) -| (1426,447) -- ($(tri.corner 1)!0.5!(tri.corner 2)$);
\draw[flow] ($(tri.corner 1)!0.5!(tri.corner 3)$) -| (1552,440) -- (em.west);
\draw[flow] (em-btn.south) -- (fsp.north);
\end{tikzpicture}
\end{document}
